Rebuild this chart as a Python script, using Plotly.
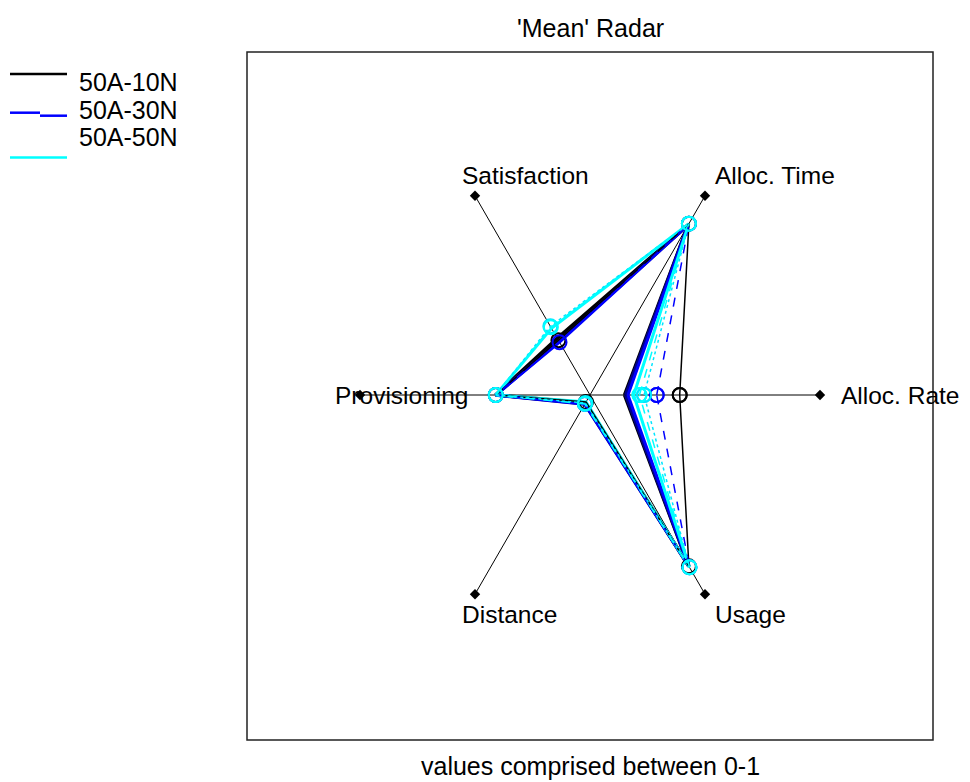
import numpy as np
import plotly.graph_objects as go

# axes of the radar, counter-clockwise starting from the right
axis_labels = ['Alloc. Rate', 'Alloc. Time', 'Satisfaction', 'Provisioning', 'Distance', 'Usage']

# legend entries
legend_names = ['50A-10N', '50A-30N', '50A-50N']
legend_colors = ['#000000', '#0000FF', '#00FFFF']

# mean values (0-1) per run, in axis order
black_circle = [0.39, 0.86, 0.275, 0.41, 0.035, 0.86]
black_thick = [0.15, 0.855, 0.285, 0.41, 0.04, 0.86]
navy_thick = [0.155, 0.855, 0.27, 0.41, 0.045, 0.86]
blue_dash = [0.29, 0.86, 0.265, 0.41, 0.045, 0.865]
blue_thick = [0.165, 0.855, 0.265, 0.41, 0.045, 0.86]
cyan_thick = [0.19, 0.86, 0.335, 0.41, 0.035, 0.865]
cyan_circle_a = [0.215, 0.86, 0.34, 0.41, 0.045, 0.865]
cyan_circle_b = [0.235, 0.86, 0.345, 0.41, 0.04, 0.865]

runs = [
    (black_thick, '#000000', 'solid', 3.5, False),
    (navy_thick, '#00008B', 'solid', 3.5, False),
    (blue_thick, '#0000FF', 'solid', 3, False),
    (cyan_thick, '#00FFFF', 'solid', 3, False),
    (black_circle, '#000000', 'solid', 1.5, True),
    (blue_dash, '#0000FF', 'dash', 1.5, True),
    (cyan_circle_b, '#00E5FF', 'dot', 1.5, True),
    (cyan_circle_a, '#00FFFF', 'dash', 1.5, True),
]

FONT = 'Liberation Sans, Arial, sans-serif'
FS = 25
# page body has an 8px margin, so the figure is shifted by 8px
OFF = 8
W, H = 962, 774
L, R, T, B = 239, 37, 44, 42
pw, ph = W - L - R, H - T - B

theta = np.deg2rad(np.arange(len(axis_labels)) * 60)


def xy(vals):
    v = np.array(vals + vals[:1])
    t = np.append(theta, theta[0])
    return v * np.cos(t), v * np.sin(t)


def px_x(p):
    return (p - OFF - L) / pw


def px_y(p):
    return (H - B - (p - OFF)) / ph


fig = go.Figure()

# spokes with diamond tips
for t in theta:
    fig.add_trace(go.Scatter(x=[0, np.cos(t)], y=[0, np.sin(t)], mode='lines',
                             line=dict(color='black', width=1), showlegend=False, hoverinfo='skip'))
fig.add_trace(go.Scatter(x=np.cos(theta), y=np.sin(theta), mode='markers',
                         marker=dict(symbol='diamond', size=8, color='black'),
                         showlegend=False, hoverinfo='skip'))

for vals, col, dash, w, mk in runs:
    x, y = xy(vals)
    fig.add_trace(go.Scatter(x=x, y=y, mode='lines+markers' if mk else 'lines',
                             line=dict(color=col, width=w, dash=dash),
                             marker=dict(symbol='circle-open', size=14, color=col, line=dict(width=2)),
                             showlegend=False))

# axis labels, left-aligned at r = 1.1
for lab, t in zip(axis_labels, theta):
    fig.add_annotation(x=1.1 * np.cos(t), y=1.1 * np.sin(t), text=lab, showarrow=False,
                       xanchor='left', yanchor='middle', xshift=-4, font=dict(size=24.5))

fig.add_annotation(x=0.5, y=px_y(28), xref='paper', yref='paper', text="'Mean' Radar",
                   showarrow=False, yanchor='middle', font=dict(size=FS))
fig.add_annotation(x=0.5, y=px_y(766), xref='paper', yref='paper', text='values comprised between 0-1',
                   showarrow=False, yanchor='middle', font=dict(size=FS))

# legend drawn by hand, outside the box on the left
text_y = [81.5, 110, 136.5]
line_y = [(74, 74), (112.7, 115.7), (157.5, 157.5)]
for name, col, ty, (ly0, ly1) in zip(legend_names, legend_colors, text_y, line_y):
    fig.add_annotation(x=px_x(77), y=px_y(ty), xref='paper', yref='paper', text=name,
                       showarrow=False, xanchor='left', yanchor='middle', font=dict(size=FS))
    fig.add_shape(type='line', xref='paper', yref='paper', x0=px_x(10), x1=px_x(40),
                  y0=px_y(ly0), y1=px_y(ly0), line=dict(color=col, width=2.5))
    fig.add_shape(type='line', xref='paper', yref='paper', x0=px_x(40), x1=px_x(67),
                  y0=px_y(ly1), y1=px_y(ly1), line=dict(color=col, width=2.5))

fig.add_shape(type='rect', xref='paper', yref='paper', x0=0, x1=1, y0=0, y1=1,
              line=dict(color='#222222', width=1.5))

fig.update_layout(width=W, height=H, margin=dict(l=L, r=R, t=T, b=B),
                  plot_bgcolor='white', paper_bgcolor='white',
                  font=dict(family=FONT, size=FS, color='black'),
                  xaxis=dict(range=[-343 / 230, 343 / 230], visible=False, fixedrange=True),
                  yaxis=dict(range=[-345 / 230, 343 / 230], visible=False, fixedrange=True),
                  showlegend=False)

fig.write_html('out.html')
